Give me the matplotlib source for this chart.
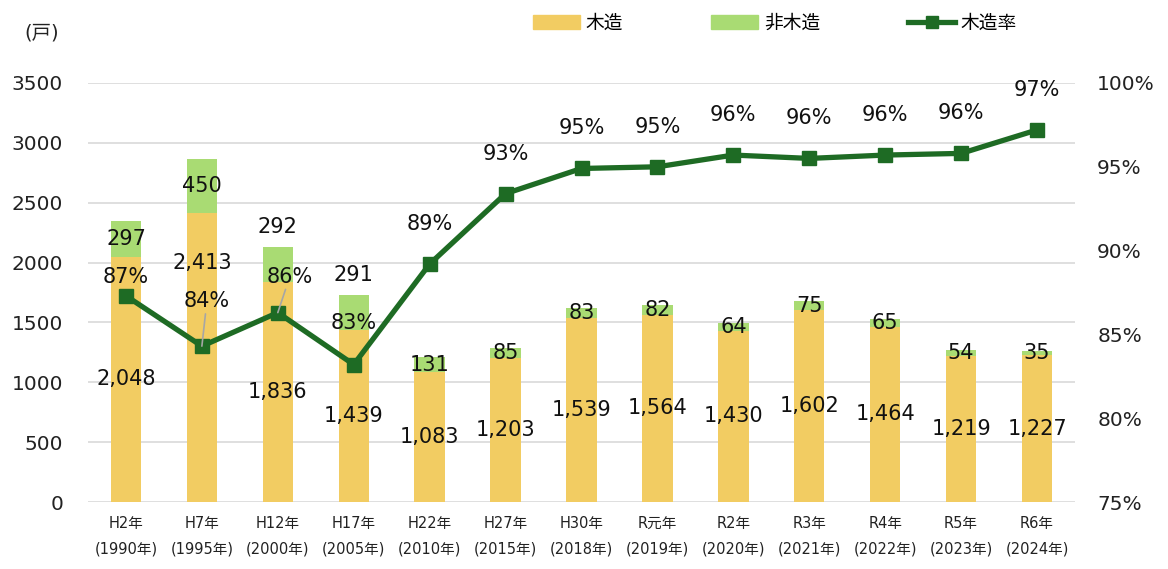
import numpy as np
import matplotlib
matplotlib.use('Agg')
import matplotlib.pyplot as plt
from matplotlib.lines import Line2D
from matplotlib.patches import Patch

plt.rcParams['font.family'] = ['DejaVu Sans', 'Noto Sans CJK JP']

# data
years = ['H2年\n(1990年)', 'H7年\n(1995年)', 'H12年\n(2000年)', 'H17年\n(2005年)',
         'H22年\n(2010年)', 'H27年\n(2015年)', 'H30年\n(2018年)', 'R元年\n(2019年)',
         'R2年\n(2020年)', 'R3年\n(2021年)', 'R4年\n(2022年)', 'R5年\n(2023年)',
         'R6年\n(2024年)']
wood = [2048, 2413, 1836, 1439, 1083, 1203, 1539, 1564, 1430, 1602, 1464, 1219, 1227]
non_wood = [297, 450, 292, 291, 131, 85, 83, 82, 64, 75, 65, 54, 35]
wood_rate = [87.3, 84.3, 86.3, 83.2, 89.2, 93.4, 94.9, 95.0, 95.7, 95.5, 95.7, 95.8, 97.2]

# label placement tweaks (pixels), as in the original chart
rate_offset = [(0, 19), (5, 45), (12, 36), (0, 42)] + [(0, 40)] * 9
rate_leader = [False, True, True] + [False] * 10
nonwood_above = [False, False, True, True] + [False] * 9

c_wood = '#F2CC62'
c_non = '#A9DB73'
c_line = '#1E6B24'
grid_c = '#D9D9D9'

fig = plt.figure(figsize=(11.68, 5.69), dpi=100)
ax = fig.add_axes([88 / 1168, 1 - 502 / 569, (1075 - 88) / 1168, (502 - 83) / 569])
x = np.arange(len(years))

ax.bar(x, wood, width=0.4, color=c_wood, zorder=2)
ax.bar(x, non_wood, width=0.4, bottom=wood, color=c_non, zorder=2)

ax.set_xlim(-0.5, len(years) - 0.5)
ax.set_ylim(0, 3500)
ax.set_yticks(range(0, 3501, 500))
ax.grid(axis='y', color=grid_c, linewidth=1.2, zorder=0)
ax.set_axisbelow(True)
for s in ax.spines.values():
    s.set_visible(False)
ax.tick_params(axis='y', length=0, labelsize=14.5, pad=18, colors='#222222')
ax.tick_params(axis='x', length=0, labelsize=10.5, pad=10, colors='#222222')
ax.set_xticks(x)
ax.set_xticklabels(years, linespacing=1.85)

# bar labels
for i in range(len(years)):
    wy = wood[i] / 2
    if i == 1:
        wy = 2000
    ax.text(i, wy, f'{wood[i]:,}', ha='center', va='center', fontsize=15, color='#111111', zorder=5)
    if nonwood_above[i]:
        ax.annotate(f'{non_wood[i]:,}', (i, wood[i] + non_wood[i]), xytext=(0, 20),
                    textcoords='offset pixels', ha='center', va='center', fontsize=15,
                    color='#111111', zorder=5)
    else:
        ax.text(i, wood[i] + non_wood[i] / 2, f'{non_wood[i]:,}', ha='center', va='center',
                fontsize=15, color='#111111', zorder=5)

ax2 = ax.twinx()
ax2.set_ylim(75, 100)
ax2.set_yticks(range(75, 101, 5))
ax2.set_yticklabels([f'{v}%' for v in range(75, 101, 5)])
for s in ax2.spines.values():
    s.set_visible(False)
ax2.tick_params(axis='y', length=0, labelsize=14.5, pad=16, colors='#222222')
ax2.plot(x, wood_rate, color=c_line, linewidth=3.8, marker='s', markersize=10, zorder=3)

for i in range(len(years)):
    dx, dy = rate_offset[i]
    props = None
    if rate_leader[i]:
        props = dict(arrowstyle='-', color='#A6A6A6', lw=1.2, shrinkA=0, shrinkB=0)
    ax2.annotate(f'{wood_rate[i]:.0f}%', (i, wood_rate[i]), xytext=(dx, dy),
                 textcoords='offset pixels', ha='center', va='center', fontsize=15,
                 color='#111111', arrowprops=props, zorder=6)

fig.text(42 / 1168, 1 - 33 / 569, '(戸)', ha='center', va='center', fontsize=14, color='#222222')

handles = [Patch(color=c_wood), Patch(color=c_non),
           Line2D([], [], color=c_line, linewidth=3.8, marker='s', markersize=9)]
fig.legend(handles, ['木造', '非木造', '木造率'], loc='center', ncol=3,
           bbox_to_anchor=(775 / 1168, 1 - 23 / 569), frameon=False, fontsize=13.5,
           handlelength=2.5, handleheight=0.8, handletextpad=0.3, columnspacing=4.7)

fig.savefig('out.png', dpi=100)
